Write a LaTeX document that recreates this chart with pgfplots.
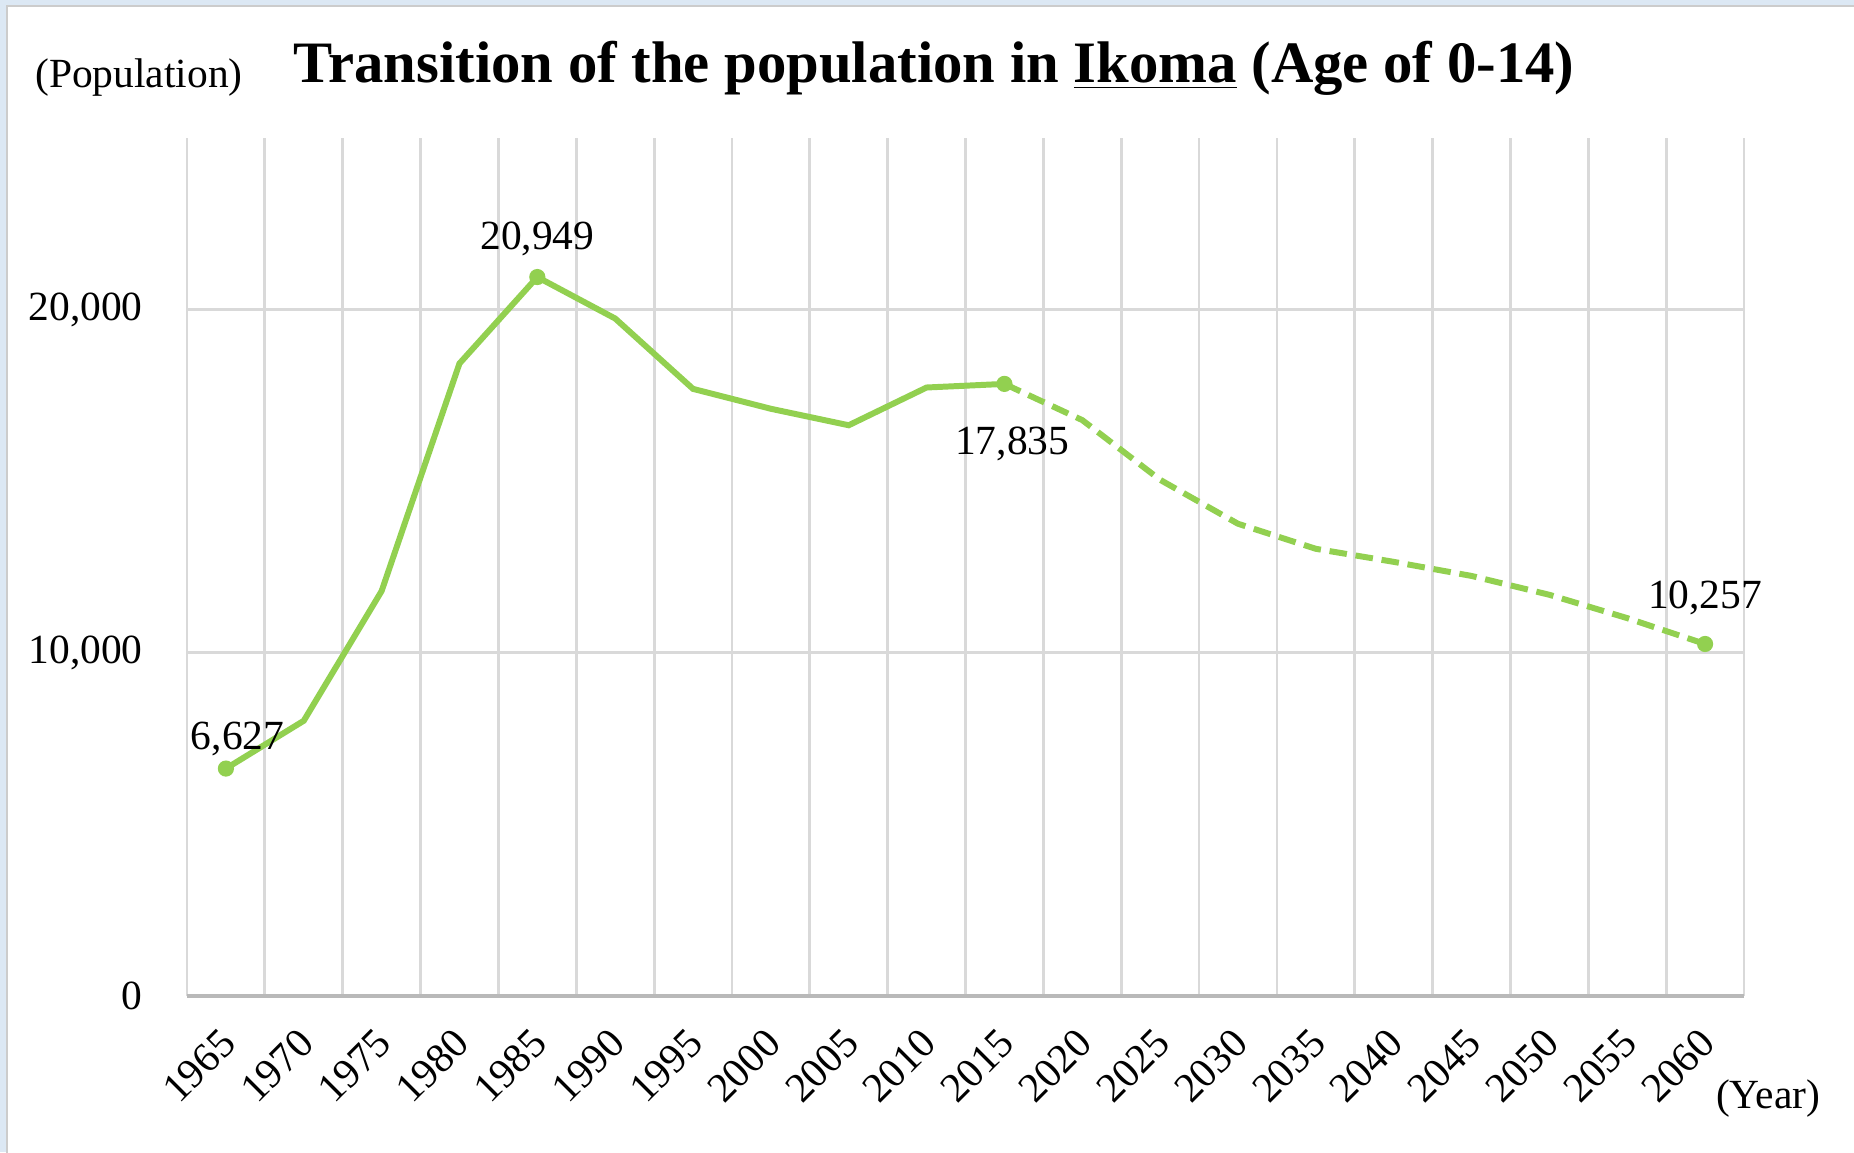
\documentclass[border=0pt]{standalone}
\usepackage{pgfplots}
\pgfplotsset{compat=1.18}
\usepackage{fontspec}
\setmainfont{Liberation Serif}
\definecolor{linegreen}{HTML}{92D050}
\definecolor{gridgray}{HTML}{D9D9D9}
\definecolor{framebg}{HTML}{DCE8F4}

% one px of the reference = 0.01cm
\pgfplotstableread{
x y
0 6627
1 8020
2 11800
3 18430
4 20949
5 19740
6 17690
7 17110
8 16630
9 17730
10 17835
}\actual
\pgfplotstableread{
x y
10 17835
11 16780
12 15040
13 13760
14 13030
15 12650
16 12240
17 11690
18 11010
19 10257
}\projected
\pgfplotstableread{
x y
0 6627
4 20949
10 17835
19 10257
}\marked

\begin{document}
\begin{tikzpicture}
% page frame: 1854 x 1152 px, axis box starts at (187,996)
\path[use as bounding box, fill=framebg] (-1.87,-1.56) rectangle (16.67,9.96);
\fill[white, draw=gray!40] (-1.80,-1.60) rectangle (16.70,9.90);
\begin{axis}[
  scale only axis,
  width=15.57cm,
  height=8.58cm,
  at={(0,0)},
  anchor=south west,
  xmin=-0.5, xmax=19.5,
  ymin=0, ymax=25000,
  xtick={0,...,19},
  xticklabels={1965,1970,1975,1980,1985,1990,1995,2000,2005,2010,2015,2020,2025,2030,2035,2040,2045,2050,2055,2060},
  minor xtick={-0.5,0.5,...,19.5},
  xminorgrids,
  ytick={0,10000,20000},
  scaled y ticks=false,
  ymajorgrids,
  minor grid style={gridgray, line width=0.8pt},
  major grid style={gridgray, line width=0.8pt},
  major tick length=0pt,
  minor tick length=0pt,
  axis lines*=left,
  x axis line style={draw=gray!55, line width=1.4pt},
  y axis line style={draw=none},
  tick label style={font=\fontsize{11.8}{14}\selectfont},
  xticklabel style={xshift=-0.27cm, yshift=-0.70cm, rotate=45, anchor=center, inner sep=0pt},
  yticklabel style={xshift=-0.32cm},
  /pgf/number format/assume math mode=true,
  /pgf/number format/1000 sep={,},
  clip=false,
]
\addplot[linegreen, line width=1.7pt] table[x=x, y=y] {\actual};
\addplot[linegreen, line width=1.7pt, dash pattern=on 5pt off 2.5pt] table[x=x, y=y] {\projected};
\addplot[only marks, mark=*, mark size=2.1pt, linegreen] table[x=x, y=y] {\marked};
\node[font=\fontsize{11.8}{14}\selectfont] at (axis cs:0.15,7500) {6,627};
\node[font=\fontsize{11.8}{14}\selectfont] at (axis cs:4,22050) {20,949};
\node[font=\fontsize{11.8}{14}\selectfont] at (axis cs:10.1,16100) {17,835};
\node[font=\fontsize{11.8}{14}\selectfont] at (axis cs:19,11600) {10,257};
\end{axis}
\node[font=\fontsize{11.8}{14}\selectfont] at (-0.48,9.18) {(Population)};
\node[font=\bfseries\fontsize{16.7}{20}\selectfont] at (7.47,9.28) {Transition of the population in \underline{Ikoma} (Age of 0-14)};
\node[font=\fontsize{11.8}{14}\selectfont] at (15.81,-1.03) {(Year)};
\end{tikzpicture}
\end{document}
